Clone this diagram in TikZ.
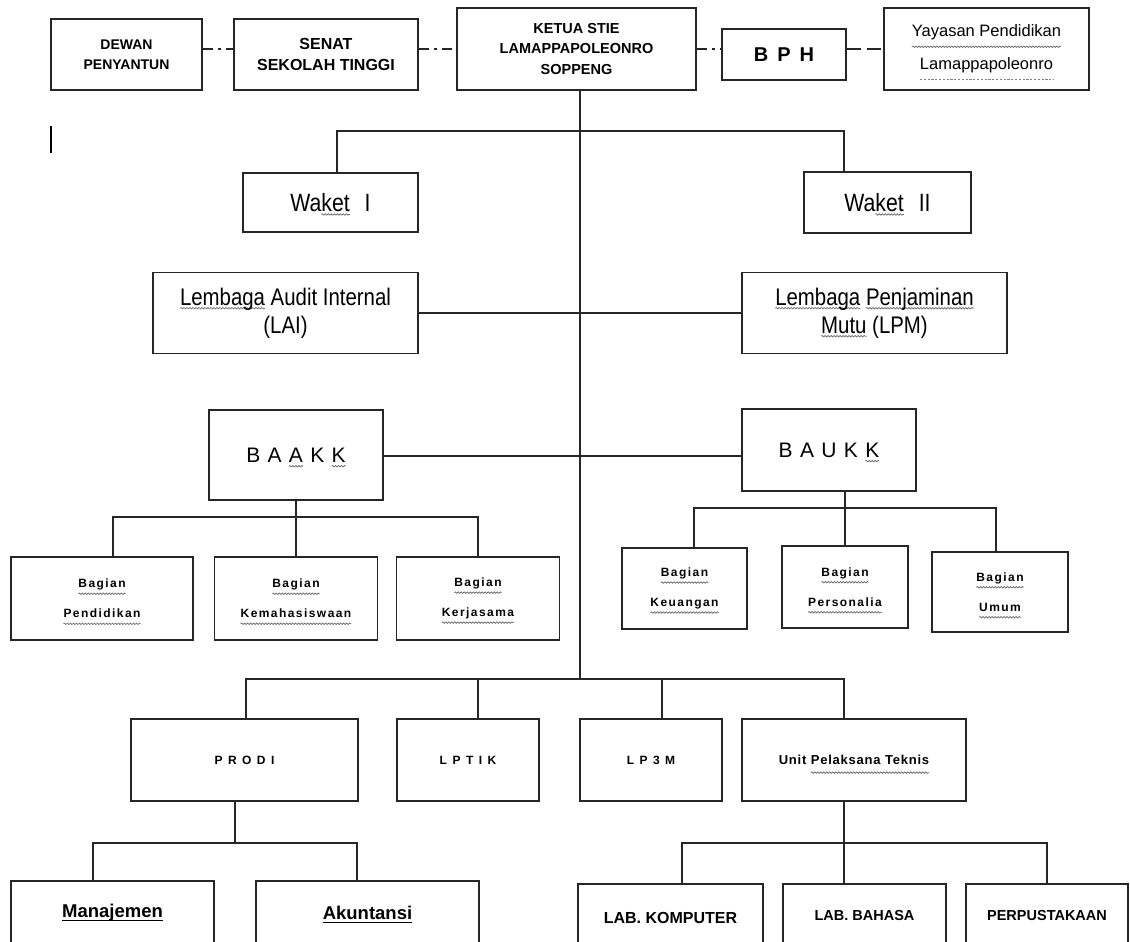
\documentclass[tikz,border=0pt]{standalone}
\usepackage{fontspec}
\setmainfont{Liberation Sans}
\newfontfamily\narrowf[FakeStretch=0.85]{Liberation Sans}
\usetikzlibrary{decorations.pathmorphing}
\newlength\gwlen
\newcommand\gw[2]{\settowidth\gwlen{#2}\rlap{\tikz[overlay,baseline=0pt,x=1pt,y=1pt]\draw[black!60,line width=0.7pt,decorate,decoration={snake,amplitude=0.75pt,segment length=3pt}] (0pt,-#1) -- (\gwlen,-#1);}#2}
\newcommand\gd[2]{\settowidth\gwlen{#2}\rlap{\tikz[overlay,baseline=0pt,x=1pt,y=1pt]\draw[black!50,line width=0.7pt,dash pattern=on 2.2pt off 1.6pt] (0pt,-#1) -- (\gwlen,-#1);}#2}
\newcommand\ul[1]{\settowidth\gwlen{#1}\rlap{\tikz[overlay,baseline=0pt,x=1pt,y=1pt]\draw[black,line width=1pt] (0pt,-2.5pt) -- (\gwlen,-2.5pt);}#1}
\begin{document}
\begin{tikzpicture}[x=1pt,y=-1pt,
  box/.style={draw=black!85,line width=1.8pt,inner sep=0pt,align=center},
  ln/.style={draw=black!85,line width=1.7pt},
  dd/.style={ln,dash pattern=on 10pt off 5pt on 3pt off 5pt},
  bag/.style={box,font=\bfseries\fontsize{12}{30}\selectfont\addfontfeatures{LetterSpace=12}},
  mid/.style={box,font=\bfseries\fontsize{12}{14}\selectfont\addfontfeatures{LetterSpace=18}}]
\useasboundingbox (0,0) rectangle (1130,942);
\clip (0,0) rectangle (1130,942);

% top row
\node[box,minimum width=151pt,minimum height=71pt,font=\bfseries\fontsize{14}{20}\selectfont] (dewan) at (126.5,54.5) {DEWAN\\PENYANTUN};
\node[box,minimum width=184pt,minimum height=71pt,font=\bfseries\fontsize{16}{21}\selectfont] (senat) at (326,54.5) {SENAT\\SEKOLAH TINGGI};
\node[box,minimum width=239pt,minimum height=82pt,font=\bfseries\fontsize{14.5}{20.5}\selectfont] (ketua) at (576.5,49) {KETUA STIE\\LAMAPPAPOLEONRO\\SOPPENG};
\node[box,minimum width=124pt,minimum height=51pt,font=\bfseries\fontsize{20}{24}\selectfont] (bph) at (784,54.5) {B\hspace{0.45em}P\hspace{0.45em}H};
\node[box,minimum width=205pt,minimum height=82pt,font=\fontsize{16.5}{33}\selectfont] (yay) at (986.5,49) {\gw{10pt}{Yayasan Pendidikan}\\\gd{10pt}{Lamappapoleonro}};
\coordinate (tl) at (0,49);
\draw[dd] (dewan.east |- tl) -- (senat.west |- tl);
\draw[dd] (senat.east |- tl) -- (ketua.west |- tl);
\draw[dd] (ketua.east |- tl) -- (bph.west |- tl);
\draw[ln,dash pattern=on 14pt off 6pt] (bph.east |- tl) -- (yay.west |- tl);

% stray cursor mark
\draw[line width=1.4pt] (51,126) -- (51,153);

% waket
\node[box,minimum width=175pt,minimum height=59pt,font=\narrowf\fontsize{25}{28}\selectfont] (w1) at (330.5,202.5) {Wa\gw{3pt}{ket}\hspace{0.6em}I};
\node[box,minimum width=167pt,minimum height=61pt,font=\narrowf\fontsize{25}{28}\selectfont] (w2) at (887.5,202.5) {Wa\gw{3pt}{ket}\hspace{0.6em}II};
\coordinate (jw) at (580,131);
\draw[ln] ([xshift=6.5pt]w1.north) |- (jw) -| ([xshift=-43.5pt]w2.north);

% lembaga
\node[box,minimum width=265pt,minimum height=81pt,font=\narrowf\fontsize{24}{28}\selectfont] (lai) at (285.5,313) {\gw{3pt}{Lembaga} Audit Internal\\(LAI)};
\node[box,minimum width=265pt,minimum height=81pt,font=\narrowf\fontsize{24}{28}\selectfont] (lpm) at (874.5,313) {\gw{3pt}{Lembaga} \gw{3pt}{Penjaminan}\\\gw{3pt}{Mutu} (LPM)};
\draw[ln] (lai.east) -- (lpm.west);

% biro
\node[box,minimum width=174pt,minimum height=90pt,font=\fontsize{21}{24}\selectfont] (baakk) at (296,455) {B\hspace{.35em}A\hspace{.35em}\gw{4pt}{A}\hspace{.35em}K\hspace{.35em}\gw{4pt}{K}};
\node[box,minimum width=174pt,minimum height=82pt,font=\fontsize{21}{24}\selectfont] (baukk) at (829,450) {B\hspace{.35em}A\hspace{.35em}U\hspace{.35em}K\hspace{.35em}\gw{4pt}{K}};
\coordinate (hb) at (580,456);
\draw[ln] (baakk.east |- hb) -- (baukk.west |- hb);

% bagian BAAKK
\node[bag,minimum width=182pt,minimum height=83pt] (pend) at (102,598.5) {\gw{6pt}{Bagian}\\\gw{6pt}{Pendidikan}};
\node[bag,minimum width=163pt,minimum height=83pt] (kema) at (296,598.5) {\gw{6pt}{Bagian}\\\gw{6pt}{Kemahasiswaan}};
\node[bag,minimum width=163pt,minimum height=83pt] (kerj) at (478,598.5) {\gw{6pt}{Bagian}\\\gw{6pt}{Kerjasama}};
\coordinate (ja) at (296,517);
\draw[ln] (baakk.south) -- (ja);
\draw[ln] ([xshift=11pt]pend.north) |- (ja) -| (kerj.north);
\draw[ln] (ja) -- (kema.north);

% bagian BAUKK
\node[bag,minimum width=125pt,minimum height=81pt] (keu) at (684.5,588.5) {\gw{6pt}{Bagian}\\\gw{6pt}{Keuangan}};
\node[bag,minimum width=126pt,minimum height=82pt] (pers) at (845,587) {\gw{6pt}{Bagian}\\\gw{6pt}{Personalia}};
\node[bag,minimum width=136pt,minimum height=80pt] (umum) at (1000,592) {\gw{6pt}{Bagian}\\\gw{6pt}{Umum}};
\coordinate (jb) at (845,508);
\draw[ln] (baukk.south -| jb) -- (jb);
\draw[ln] ([xshift=9.5pt]keu.north) |- (jb) -| ([xshift=-4pt]umum.north);
\draw[ln] (jb) -- (pers.north);

% lower units
\node[mid,minimum width=227pt,minimum height=82pt] (prodi) at (244.5,760) {P R O D I};
\node[mid,minimum width=142pt,minimum height=82pt] (lptik) at (468,760) {L P T I K};
\node[mid,minimum width=142pt,minimum height=82pt] (lp3m) at (651,760) {L P 3 M};
\node[box,minimum width=224pt,minimum height=82pt,font=\bfseries\fontsize{13}{15}\selectfont\addfontfeatures{LetterSpace=6}] (unit) at (854,760) {Unit \gw{8pt}{Pelaksana Teknis}};
\coordinate (jm) at (580,679);
\draw[ln] (ketua.south -| jm) -- (jm);
\draw[ln] ([xshift=1.5pt]prodi.north) |- (jm) -| ([xshift=-10pt]unit.north);
\draw[ln] ([xshift=10pt]lptik.north) -- ([xshift=10pt]lptik.north |- jm);
\draw[ln] ([xshift=11pt]lp3m.north) -- ([xshift=11pt]lp3m.north |- jm);

% prodi children
\node[box,anchor=north,minimum width=203pt,minimum height=64pt,font=\bfseries\fontsize{18.5}{22}\selectfont] (man) at (112.5,880) {\ul{Manajemen}};
\node[box,anchor=north,minimum width=223pt,minimum height=64pt,font=\bfseries\fontsize{18.5}{22}\selectfont] (aku) at (367.5,880) {\ul{Akuntansi}};
\coordinate (jp) at (235,843);
\draw[ln] (prodi.south -| jp) -- (jp);
\draw[ln] ([xshift=-19.5pt]man.north) |- (jp) -| ([xshift=-10.5pt]aku.north);

% unit children
\node[box,anchor=north,minimum width=185pt,minimum height=68pt,font=\bfseries\fontsize{16}{20}\selectfont] (labk) at (670.5,883) {LAB. KOMPUTER};
\node[box,anchor=north,minimum width=163pt,minimum height=64pt,font=\bfseries\fontsize{14.5}{18}\selectfont] (labb) at (864.5,883) {LAB. BAHASA};
\node[box,anchor=north,minimum width=162pt,minimum height=64pt,font=\bfseries\fontsize{14.5}{18}\selectfont] (perp) at (1047,883) {PERPUSTAKAAN};
\coordinate (ju) at (844,843);
\draw[ln] (unit.south -| ju) -- (ju);
\draw[ln] ([xshift=11.5pt]labk.north) |- (ju) -| (perp.north);
\draw[ln] (ju) -- (labb.north -| ju);
\end{tikzpicture}
\end{document}
